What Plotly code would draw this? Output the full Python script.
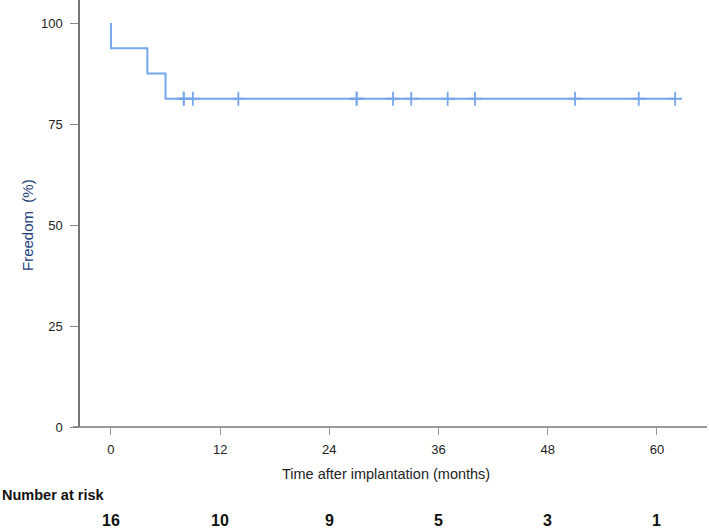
import plotly.graph_objects as go

# ---- data ----
event_times = [0, 4, 6]
censor_times = [8, 8, 9, 14, 27, 27, 31, 33, 37, 40, 51, 58, 62]
n_start = 16
x_ticks = [0, 12, 24, 36, 48, 60]
at_risk = [16, 10, 9, 5, 3, 1]
y_ticks = [0, 25, 50, 75, 100]

# ---- Kaplan-Meier ----
n = n_start
s = 100.0
step_x = [0]
step_y = [100.0]
for t in event_times:
    s = s * (1 - 1 / n)
    n -= 1
    step_x.append(t)
    step_y.append(s)
step_x.append(max(censor_times))
step_y.append(s)

def surv_at(t):
    val = 100.0
    nn = n_start
    for e in event_times:
        if e <= t:
            val *= (1 - 1 / nn)
            nn -= 1
    return val

cens_y = [surv_at(t) for t in censor_times]

blue = "#76a6ec"
axis_col = "#777777"
font_fam = "Liberation Sans, Arial, sans-serif"

fig = go.Figure()
fig.add_trace(go.Scatter(x=step_x, y=step_y, mode="lines", line=dict(color=blue, width=2, shape="hv"),
                         hoverinfo="skip", showlegend=False))
fig.add_trace(go.Scatter(x=censor_times, y=cens_y, mode="markers",
                         marker=dict(symbol="cross-thin", size=10, line=dict(color=blue, width=1.8)),
                         showlegend=False))

L, R, T, B = 80, 2, 0, 102
W, H = 709, 529
ph = H - T - B
pw = W - L - R

def py(p):
    return (H - B - p) / ph

def px(p):
    return (p - L) / pw

fig.update_layout(
    width=W, height=H,
    margin=dict(l=L, r=R, t=T, b=B, autoexpand=False),
    paper_bgcolor="white", plot_bgcolor="white",
    font=dict(family=font_fam, size=13, color="#222222"),
    xaxis=dict(range=[-3.4, 65.5], tickvals=x_ticks, ticktext=[str(v) for v in x_ticks],
               showgrid=False, zeroline=False, showline=False, automargin=False,
               ticks="outside", ticklen=7, tickcolor="#999999", tickwidth=1,
               ticklabelstandoff=3,
               tickfont=dict(size=13, color="#222222")),
    yaxis=dict(range=[0, 105.7], tickvals=y_ticks, showgrid=False, zeroline=False,
               showline=True, linecolor=axis_col, linewidth=1.5, automargin=False,
               ticks="outside", ticklen=8, tickcolor="#888888", tickwidth=1,
               ticklabelstandoff=5,
               tickfont=dict(size=13, color="#222222")),
    showlegend=False,
)

# x-axis line extending slightly left of the y-axis
fig.add_shape(type="line", xref="paper", yref="paper", x0=px(73), x1=1.0, y0=0, y1=0,
              line=dict(color=axis_col, width=1.5))

annotations = [
    dict(text="Freedom\u00a0\u00a0(%)", x=px(28), y=py(225), xref="paper", yref="paper", textangle=-90,
         xanchor="center", yanchor="middle",
         showarrow=False, font=dict(size=15, color="#23407a", family=font_fam)),
    dict(text="Time after implantation (months)", x=px(386), y=py(474), xref="paper", yref="paper",
         xanchor="center", yanchor="middle",
         showarrow=False, font=dict(size=14.5, color="#222222", family=font_fam)),
    dict(text="<b>Number at risk</b>", x=px(0), y=py(495), xref="paper", yref="paper",
         xanchor="left", yanchor="middle", showarrow=False,
         font=dict(size=14.5, color="#111111", family=font_fam)),
]
for xv, nr in zip(x_ticks, at_risk):
    annotations.append(dict(text="<b>%d</b>" % nr, x=xv, y=py(520), xref="x", yref="paper",
                            xanchor="center", yanchor="middle", showarrow=False,
                            font=dict(size=16, color="#111111", family=font_fam)))
fig.update_layout(annotations=annotations)

fig.write_html("out.html", config={"displayModeBar": False},
               post_script="document.body.style.margin='0';document.body.style.overflow='hidden';")
